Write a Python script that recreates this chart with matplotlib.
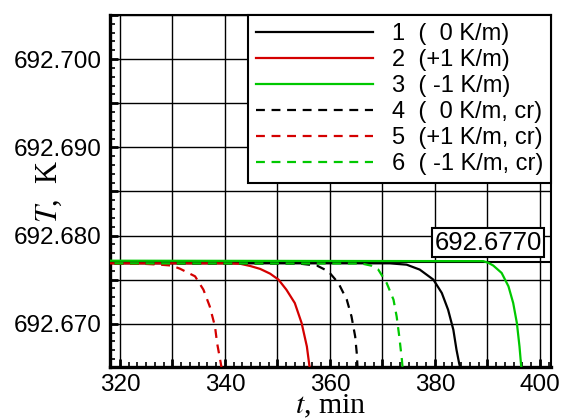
import numpy as np
import matplotlib
matplotlib.use("Agg")
import matplotlib.pyplot as plt
from matplotlib.ticker import MultipleLocator, FuncFormatter

plt.rcParams["font.family"] = "Liberation Sans"
plt.rcParams["mathtext.fontset"] = "stix"

RED = "#d40000"
GREEN = "#00c800"

# curve data (t in min, T in K)
t1 = [316, 371.4, 374.6, 377.1, 379.7, 381.3, 382.5, 383.5, 384.1, 384.6, 385.0]
T1 = [692.67685, 692.67685, 692.6767, 692.67614, 692.6750, 692.67349, 692.67159,
      692.66932, 692.66705, 692.66553, 692.6645]

t2 = [316, 340, 342.9, 344.8, 346.7, 348.6, 350.2, 351.7, 353.3, 354.6, 355.6, 356.1, 356.4]
T2 = [692.67685, 692.67685, 692.6768, 692.67655, 692.67622, 692.67568, 692.6750,
      692.67386, 692.67235, 692.67008, 692.66742, 692.66515, 692.6645]

t3 = [316, 389.2, 390.2, 391.1, 392.7, 394.0, 394.9, 395.6, 396.1, 396.4, 396.6]
T3 = [692.67715, 692.6771, 692.6769, 692.6766, 692.67576, 692.67424, 692.67235,
      692.67008, 692.66742, 692.66534, 692.6645]

t4 = [316, 354, 357.5, 359.7, 361.6, 363.2, 364.1, 364.8, 365.1, 365.3]
T4 = [692.67685, 692.67683, 692.6766, 692.67594, 692.67462, 692.67273, 692.67083,
      692.66856, 692.66667, 692.6645]

t5 = [316, 324.4, 327.6, 329.8, 331.4, 334.3, 335.9, 337.1, 338.1, 338.5, 339.2, 339.5]
T5 = [692.67685, 692.6768, 692.6767, 692.6766, 692.67625, 692.67538, 692.67386,
      692.67197, 692.66969, 692.66781, 692.66553, 692.6645]

t6 = [316, 366, 367.8, 369.2, 370.8, 372.1, 372.7, 373.2, 373.7, 373.9]
T6 = [692.67685, 692.67683, 692.6766, 692.67614, 692.67462, 692.67273, 692.67083,
      692.66856, 692.66591, 692.6645]

labels = ["1  (  0 K/m)", "2  (+1 K/m)", "3  ( -1 K/m)",
          "4  (  0 K/m, cr)", "5  (+1 K/m, cr)", "6  ( -1 K/m, cr)"]
T_ref = 692.677
ref_text = "692.6770"

fig = plt.figure(figsize=(5.62, 4.19), dpi=100)
ax = fig.add_axes([110 / 562, 1 - 367 / 419, 441 / 562, 352 / 419])

dash = (4, 3)
ax.axhline(T_ref, color="black", lw=1.5, zorder=2)
ax.plot(t1, T1, color="black", lw=1.6, label=labels[0], zorder=3)
ax.plot(t2, T2, color=RED, lw=1.6, label=labels[1], zorder=3)
ax.plot(t3, T3, color=GREEN, lw=1.6, label=labels[2], zorder=4)
ax.plot(t4, T4, color="black", lw=1.6, ls=(0, dash), label=labels[3], zorder=3)
ax.plot(t5, T5, color=RED, lw=1.6, ls=(0, dash), label=labels[4], zorder=3)
ax.plot(t6, T6, color=GREEN, lw=1.6, ls=(0, dash), label=labels[5], zorder=3)

ax.set_xlim(318.1, 402.1)
ax.set_ylim(692.6651, 692.705)

ax.xaxis.set_major_locator(MultipleLocator(10))
ax.xaxis.set_minor_locator(MultipleLocator(10 / 6))
ax.yaxis.set_major_locator(MultipleLocator(0.005))
ax.yaxis.set_minor_locator(MultipleLocator(0.001))
ax.xaxis.set_major_formatter(FuncFormatter(
    lambda v, p: f"{v:.0f}" if abs(v / 20 - round(v / 20)) < 1e-6 else ""))
ax.yaxis.set_major_formatter(FuncFormatter(
    lambda v, p: f"{v:.3f}" if abs(v / 0.01 - round(v / 0.01)) < 1e-4 else ""))

ax.tick_params(which="both", direction="in", top=False, right=False, labelsize=17.5)
ax.tick_params(which="major", length=6, width=2.0)
ax.tick_params(axis="y", which="major", pad=6)
ax.tick_params(axis="x", which="major", pad=5)
ax.tick_params(which="minor", length=3.5, width=1.2)
ax.grid(True, which="major", color="black", lw=1.0, zorder=1)
ax.set_axisbelow(True)
for s in ["left", "bottom"]:
    ax.spines[s].set_linewidth(2.4)
for s in ["top", "right"]:
    ax.spines[s].set_linewidth(1.5)

ax.set_xlabel("$t$, min", family="Liberation Serif", fontsize=21.5)
ax.set_ylabel("$T$,  K", family="Liberation Serif", fontsize=22)
ax.xaxis.set_label_coords(0.5, -0.072)
ax.yaxis.set_label_coords(-0.105, 0.5)

ax.text(390.1, 692.6792, ref_text, fontsize=18.5, ha="center", va="center", zorder=6,
        bbox=dict(boxstyle="square,pad=0.1", fc="white", ec="black", lw=1.5))

leg = ax.legend(loc="upper right", borderaxespad=0, fontsize=17, handlelength=4.95,
                handletextpad=0.8, labelspacing=0.17, borderpad=0.34, fancybox=False,
                framealpha=1, edgecolor="black")
leg.get_frame().set_linewidth(1.5)
leg.set_zorder(10)

fig.savefig("out.png", dpi=100)
